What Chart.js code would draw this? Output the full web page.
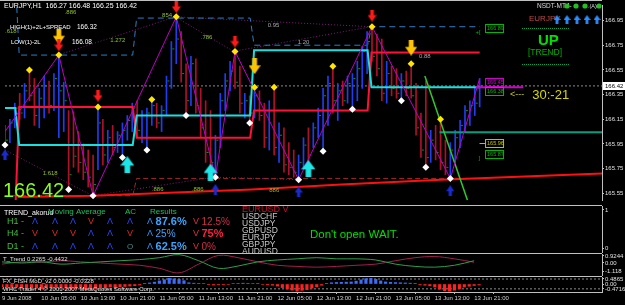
<!DOCTYPE html>
<html>
<head>
<meta charset="utf-8">
<title>EURJPY,H1</title>
<script src="https://cdn.jsdelivr.net/npm/chart.js@4.4.1/dist/chart.umd.min.js"></script>
<style>
  html, body { margin: 0; padding: 0; background: #000; }
  #wrap { position: relative; width: 625px; height: 305px; background: #000; overflow: hidden; }
  .pane { position: absolute; left: 0; width: 625px; }
</style>
</head>
<body>
<div id="wrap">
  <div class="pane" style="top:0;height:205px"><canvas id="mainChart"></canvas></div>
  <div class="pane" style="top:205px;height:48px"><canvas id="trendChart"></canvas></div>
  <div class="pane" style="top:253px;height:23px"><canvas id="ttChart"></canvas></div>
  <div class="pane" style="top:276px;height:29px"><canvas id="fishChart"></canvas></div>
</div>
<script>
// EURJPY H1 bars, index = hours since 9 Jun 21:00
const opens  = [166.02,165.98,166.12,166.24,166.20,166.38,166.34,166.18,166.32,166.42,166.26,166.12,166.10,166.20,166.10,165.85,165.80,165.72,165.68,165.78,
                166.12,165.86,166.00,165.92,166.02,166.06,166.14,166.24,166.06,166.18,166.20,166.26,166.12,166.22,166.46,166.72,166.80,166.52,166.30,166.60,
                166.26,166.08,165.88,165.80,165.98,166.30,166.46,166.54,166.45,166.28,166.30,166.20,166.34,166.18,166.00,166.22,165.92,166.02,165.78,165.76,
                165.72,165.80,165.94,165.86,166.08,166.18,166.34,166.44,166.30,166.38,166.30,166.44,166.48,166.56,166.70,166.78,166.66,166.56,166.36,166.52,
                166.40,166.36,166.46,166.40,166.34,166.08,165.90,165.84,165.98,165.88,165.80,165.76,165.90,166.00,166.10,166.22,166.26,166.27];
const highs  = [166.10,166.15,166.28,166.36,166.44,166.55,166.48,166.40,166.50,166.46,166.52,166.67,166.45,166.22,166.21,166.05,165.95,165.90,165.86,166.25,
                166.15,166.06,166.10,166.05,166.12,166.18,166.28,166.30,166.22,166.24,166.31,166.28,166.26,166.50,166.78,166.98,166.86,166.60,166.66,166.64,
                166.40,166.30,166.22,166.02,166.36,166.52,166.62,166.70,166.58,166.36,166.34,166.41,166.38,166.28,166.30,166.41,166.12,166.08,165.96,165.90,
                165.86,166.00,166.08,166.12,166.24,166.40,166.50,166.58,166.44,166.46,166.50,166.52,166.62,166.74,166.86,166.90,166.84,166.80,166.62,166.58,
                166.56,166.52,166.54,166.60,166.44,166.20,166.46,166.06,166.10,166.15,165.98,165.96,166.06,166.14,166.26,166.30,166.40,166.48];
const lows   = [165.94,165.96,166.08,166.15,166.16,166.30,166.10,166.08,166.16,166.20,166.22,166.00,166.05,165.58,165.76,165.72,165.66,165.60,165.53,165.74,
                165.78,165.80,165.86,165.88,165.84,165.98,166.05,166.00,165.96,165.90,166.10,166.08,166.05,166.18,166.40,166.60,166.45,166.18,166.26,166.20,
                166.00,165.80,165.72,165.68,165.92,166.22,166.38,166.40,166.20,166.16,166.12,166.16,166.14,165.92,165.90,165.86,165.80,165.72,165.70,165.68,
                165.66,165.74,165.80,165.92,166.00,165.89,166.10,166.20,166.14,166.26,166.28,166.23,166.30,166.40,166.52,166.62,166.50,166.30,166.28,166.34,
                166.32,166.30,166.34,166.32,166.02,165.84,165.76,165.80,165.82,165.74,165.70,165.67,165.80,165.92,166.04,166.10,166.18,166.25];
const closes = [165.98,166.12,166.24,166.20,166.38,166.34,166.18,166.32,166.42,166.26,166.48,166.38,166.30,165.70,165.85,165.80,165.72,165.68,165.62,166.12,
                165.86,166.00,165.92,166.02,166.06,166.14,166.24,166.06,166.18,166.20,166.26,166.12,166.22,166.46,166.72,166.80,166.52,166.30,166.60,166.26,
                166.08,165.88,165.80,165.98,166.30,166.46,166.54,166.45,166.28,166.30,166.20,166.34,166.18,166.00,166.22,165.92,166.02,165.78,165.76,165.72,
                165.80,165.94,165.86,166.08,166.18,166.34,166.44,166.30,166.38,166.30,166.44,166.48,166.56,166.70,166.78,166.66,166.56,166.36,166.52,166.40,
                166.36,166.46,166.40,166.34,166.08,165.90,165.84,165.98,165.88,165.80,165.76,165.90,166.00,166.10,166.22,166.26,166.28,166.42];

const priceTicks = [166.95, 166.75, 166.55, 166.35, 166.15, 165.95, 165.75, 165.55];
const timeHours  = [0, 8, 16, 24, 32, 40, 48, 56, 64, 72, 80, 88, 96];
const timeLabels = ['9 Jun 2008', '10 Jun 05:00', '10 Jun 13:00', '10 Jun 21:00', '11 Jun 05:00', '11 Jun 13:00',
                    '11 Jun 21:00', '12 Jun 05:00', '12 Jun 13:00', '12 Jun 21:00', '13 Jun 05:00', '13 Jun 13:00', '13 Jun 21:00'];

// zigzag turning points
const zigHours  = [0, 11, 18, 35, 43, 47, 60, 75, 91, 97];
const zigPrices = [166.05, 166.67, 165.53, 166.98, 165.68, 166.70, 165.66, 166.90, 165.67, 166.48];

// fractals (diamonds sit on the bar high / low)
const upFractals   = [5, 11, 19, 30, 35, 47, 51, 55, 67, 75, 83, 89];
const downFractals = [0, 13, 18, 24, 29, 37, 43, 50, 60, 65, 71, 81, 86, 91];

// signal arrows
const redDownHours   = [11, 19, 35, 47, 75];
const redDownPrices  = [166.75, 166.34, 167.06, 166.78, 166.99];
const goldDownHours  = [11, 51, 83];
const goldDownPrices = [166.82, 166.58, 166.73];
const cyanUpHours    = [25, 42, 62];
const cyanUpPrices   = [165.78, 165.72, 165.75];
const navyUpHours    = [0, 43, 60, 91];
const navyUpPrices   = [165.86, 165.58, 165.56, 165.57];

// daily channel levels
const dayStarts   = [0, 2.5, 26.5, 50.5, 74.5];
const lastHour    = 97;
const cyanLevels  = [166.24, 165.94, 166.18, 166.71, 166.41];
const redLevels   = [165.40, 166.25, 166.00, 166.22, 166.69];
const boxHiLevels = [167.30, 166.67, 166.97, 166.75, 166.90];
const boxLoLevels = [165.53, 165.53, 165.67, 165.67, 165.67];

// other lines
const trendHours  = [2.6, 18, 50.4, 68.7, 89, 122];
const trendPrices = [165.52, 165.53, 165.58, 165.62, 165.66, 165.71];
const greenHours  = [85.8, 96];
const greenPrices = [166.50, 165.32];
const tealHours   = [88.8, 122];
const tealPrice   = 166.045;
const pinkHours   = [96.2, 105.9];
const pinkPrice   = 166.41;
const fibSegments = [
  [10.8, 166.67, 34.8, 166.98],
  [34.8, 166.98, 74.8, 166.90],
  [34.8, 166.98, 46.7, 166.70],
  [46.7, 166.70, 74.8, 166.90],
  [0, 165.90, 17.9, 165.53],
  [17.9, 165.53, 42.7, 165.68],
  [42.7, 165.68, 59.8, 165.66]
];
const fibTexts  = ['.886', '.618', '1.272', '854', '.786', '0.95', '1.20', '0.88', '1.618', '.886', '.886', '886'];
const fibHours  = [12.2, 0, 21.5, 32.1, 40, 53.7, 59.8, 84.6, 7.7, 30, 38.2, 54];
const fibPrices = [167.02, 166.86, 166.79, 166.99, 166.81, 166.91, 166.77, 166.66, 165.71, 165.58, 165.58, 165.57];

// price tags at the right end
const tagPrices = [166.89, 166.45, 166.38, 165.96, 165.87];
const hudHigh = 166.32, hudLow = 166.08;

// TREND_akorud panel
const tfRows     = ['H1', 'H4', 'D1'];
const tfSignals  = [['up','up','up','down','up','up'], ['down','down','down','up','up','down'], ['up','up','up','up','up','flat']];
const upResults  = ['87.6%', '25%', '62.5%'];
const dnResults  = ['12.5%', '75%', '0%'];
const upWins     = [true, false, true];
const pairList   = ['USDCHF', 'USDJPY', 'GBPUSD', 'EURJPY', 'GBPJPY', 'AUDUSD'];

// T_Trend oscillator
const ttHours = [0,4,8,12,16,20,24,28,32,36,40,44,48,52,56,60,64,68,72,76,80,84,88,92,96];
const ttGreen = [0.15,0,0.15,-0.15,0,0.15,0.3,0.45,0.7,1.1,0.3,-0.7,-0.4,0.15,0.4,0.55,0.7,0.55,0.55,0.4,-0.15,-0.45,-0.55,-0.3,0.3];
const ttRed   = [-0.15,0.15,0.1,0.3,0.15,0,-0.15,-0.3,-0.7,-1.3,-0.15,1.0,0.7,0.15,-0.3,-0.45,-0.55,-0.45,-0.3,-0.15,0.3,0.7,0.85,0.55,0.1];
const ttTicks  = [0.9244, 0, -1.118];
const ttHeader = ['0.2265', '-0.4432'];

// FX_FISH histogram, one value per bar
const fish = [-0.28,-0.32,-0.35,-0.30,-0.38,-0.42,-0.36,-0.40,-0.45,-0.38,-0.33,-0.30,-0.36,-0.42,-0.48,-0.44,-0.40,-0.46,-0.50,-0.42,
              -0.38,-0.35,-0.30,-0.34,-0.28,-0.24,-0.20,-0.16,-0.10,0.06,0.10,0.18,0.30,0.42,0.55,0.50,0.45,0.32,0.12,0.08,
              0.06,0.05,-0.06,-0.10,-0.08,-0.06,-0.05,0.05,0.06,0.08,0.06,0.05,0.04,-0.05,-0.08,-0.12,-0.20,-0.35,-0.48,-0.60,
              -0.70,-0.62,-0.55,-0.40,-0.28,-0.12,0.06,0.12,0.15,0.16,0.18,0.20,0.28,0.40,0.52,0.55,0.45,0.30,0.20,0.16,
              0.14,0.12,0.10,0.08,0.06,-0.08,-0.12,-0.18,-0.30,-0.50,-0.65,-0.70,-0.60,-0.45,-0.30,-0.22,-0.15,-0.10];
const fishLevels = [0.4865, -0.4716];
const fishTicks  = [0.4865, 0, -0.4716];

const FONT = '"Liberation Sans", Arial, sans-serif';
const AXIS = '#c0c0c0';
Chart.defaults.font.family = FONT;

function txt(ctx, s, x, y, color, size, bold) {
  ctx.font = (bold ? 'bold ' : '') + size + 'px ' + FONT;
  ctx.fillStyle = color;
  ctx.textAlign = 'left';
  ctx.textBaseline = 'middle';
  ctx.fillText(s, x, y);
  return ctx.measureText(s).width;
}

function hline(ctx, x1, x2, y, color, dash) {
  ctx.save();
  ctx.strokeStyle = color;
  ctx.lineWidth = 1;
  ctx.setLineDash(dash || []);
  ctx.beginPath();
  ctx.moveTo(x1, y);
  ctx.lineTo(x2, y);
  ctx.stroke();
  ctx.restore();
}

function makeArrow(color, w, h, up) {
  const c = document.createElement('canvas');
  c.width = w; c.height = h;
  const g = c.getContext('2d');
  const fy = v => up ? h - v : v;
  const s1 = w * 0.3, s2 = w * 0.7, hy = h * 0.45;
  g.fillStyle = color;
  g.beginPath();
  g.moveTo(s1, fy(0)); g.lineTo(s2, fy(0)); g.lineTo(s2, fy(hy)); g.lineTo(w, fy(hy));
  g.lineTo(w / 2, fy(h)); g.lineTo(0, fy(hy)); g.lineTo(s1, fy(hy));
  g.closePath();
  g.fill();
  return c;
}

const redArrow  = makeArrow('#ff1a1a', 9, 12, false);
const goldArrow = makeArrow('#ffc400', 12, 16, false);
const cyanArrow = makeArrow('#1ee6e6', 14, 17, true);
const navyArrow = makeArrow('#1a2cd0', 8, 11, true);
const tinyArrow = makeArrow('#2a8cff', 7, 9, true);

function pts(hs, ps) { return hs.map((h, i) => ({ x: h, y: Array.isArray(ps) ? ps[i] : ps })); }

function daySteps(levels) {
  const out = [];
  levels.forEach((v, i) => {
    const last = i === levels.length - 1;
    out.push({ x: dayStarts[i] + (i ? 0.4 : 0), y: v });
    out.push({ x: last ? lastHour : dayStarts[i + 1] - 0.4, y: v });
  });
  return out;
}

function lineSet(data, color, width, order, extra) {
  return Object.assign({ type: 'line', data, borderColor: color, borderWidth: width, pointRadius: 0, order, tension: 0 }, extra || {});
}

function markSet(data, style, order, extra) {
  return Object.assign({ type: 'line', data, showLine: false, pointStyle: style, pointRadius: 4, order, clip: false }, extra || {});
}

const xHidden = { type: 'linear', min: 0, max: 122, offset: false, display: false };

function rightAxis(min, max, ticks, fmt) {
  return {
    type: 'linear', position: 'right', min, max,
    afterBuildTicks: a => { a.ticks = ticks.map(v => ({ value: v })); },
    afterFit: a => { a.width = 23; a.paddingTop = 0; a.paddingBottom = 0; },
    ticks: { color: '#e0e0e0', font: { size: 6 }, padding: 1, autoSkip: false, callback: fmt },
    grid: { drawOnChartArea: false, color: AXIS, tickLength: 2 },
    border: { color: AXIS }
  };
}

const baseOpts = {
  responsive: true, maintainAspectRatio: false, animation: false, events: [],
  plugins: { legend: { display: false }, tooltip: { enabled: false } }
};

// ---------- main price pane ----------
const last = closes.length - 1;
const mainOverlay = {
  id: 'mainOverlay',
  afterDraw(chart) {
    const { ctx, chartArea: a, scales: { x, y } } = chart;
    ctx.save();
    hline(ctx, 0, a.right, 0.5, AXIS);

    fibTexts.forEach((s, i) => {
      const grey = s === '0.95' || s === '1.20' || s === '0.88';
      txt(ctx, s, x.getPixelForValue(fibHours[i]), y.getPixelForValue(fibPrices[i]), grey ? '#a8a8a8' : '#8fc030', 6);
    });

    txt(ctx, 'EURJPY,H1  ' + [opens[last], highs[last], lows[last], closes[last]].map(v => v.toFixed(2)).join(' '), 4, 6, '#ffffff', 7);
    txt(ctx, 'HIGH(1)+2L+SPREAD', 10, 27, '#ffffff', 6);
    txt(ctx, hudHigh.toFixed(2), 77, 27, '#ffffff', 6.5);
    txt(ctx, 'LOW(1)-2L', 11, 42, '#ffffff', 6);
    txt(ctx, hudLow.toFixed(2), 72, 42, '#ffffff', 6.5);
    txt(ctx, closes[last].toFixed(2), 3, 191, '#84ff1c', 20);

    // price tags
    const tagColors = ['#00b800', '#d000d0', '#00b800', '#c0c000', '#00b800'];
    const tx = x.getPixelForValue(98.2);
    tagPrices.forEach((p, i) => {
      const py = Math.round(y.getPixelForValue(p)) + 0.5;
      ctx.strokeStyle = tagColors[i];
      ctx.lineWidth = 1;
      ctx.strokeRect(tx, py - 4, 18, 8);
      txt(ctx, p.toFixed(2), tx + 1.5, py, tagColors[i], 5.5);
    });
    hline(ctx, tx - 6, tx, Math.round(y.getPixelForValue(tagPrices[3])) + 0.5, '#c0c000');
    txt(ctx, '+[', tx - 10, y.getPixelForValue(tagPrices[0]) + 4, '#00b800', 6);
    txt(ctx, ']', tx - 7, y.getPixelForValue(tagPrices[4]) + 5, '#00b800', 6);

    // top-right HUD
    txt(ctx, 'NSDT-MT4-', 537, 6, '#d8d8d8', 6.5);
    ctx.fillStyle = '#1fc01f';
    [567, 576, 585, 599].forEach(cx => { ctx.beginPath(); ctx.arc(cx, 6, 2.6, 0, Math.PI * 2); ctx.fill(); });
    txt(ctx, '.(A)', 588, 6, '#d8d8d8', 5.5);
    txt(ctx, 'EURJPY', 529, 19, '#c04848', 8);
    [557, 567, 577, 587, 597].forEach(cx => ctx.drawImage(tinyArrow, cx - 3.5, 15));
    hline(ctx, 522, 570, 28.5, '#00a060', [1, 1]);
    hline(ctx, 522, 570, 64.5, '#00a060', [1, 1]);
    txt(ctx, 'UP', 538, 41, '#00e000', 15, true);
    txt(ctx, '[TREND]', 528, 53, '#00b000', 8.5);
    const w = txt(ctx, '<---', 510, 95, '#c8c810', 9);
    txt(ctx, '30:-21', 512 + w + 6, 95, '#d8d800', 13);

    // current price marker on the axis
    const cy = Math.round(y.getPixelForValue(closes[last]));
    ctx.fillStyle = '#ffffff';
    ctx.fillRect(a.right + 1, cy - 4, 22, 8);
    txt(ctx, closes[last].toFixed(2), a.right + 3, cy, '#000000', 6);
    ctx.restore();
  }
};

const BLUE = '#1f3ef0', RED = '#b0102a';
new Chart(document.getElementById('mainChart'), {
  type: 'bar',
  data: {
    datasets: [
      markSet(pts(redDownHours, redDownPrices), redArrow, 1),
      markSet(pts(goldDownHours, goldDownPrices), goldArrow, 2),
      markSet(pts(cyanUpHours, cyanUpPrices), cyanArrow, 1),
      markSet(pts(navyUpHours, navyUpPrices), navyArrow, 1),
      markSet(upFractals.map(h => ({ x: h, y: highs[h] })), 'rectRot', 3, { pointRadius: 3.5, backgroundColor: '#ffe600', borderWidth: 0 }),
      markSet(downFractals.map(h => ({ x: h, y: lows[h] })), 'rectRot', 3, { pointRadius: 3.5, backgroundColor: '#ffffff', borderWidth: 0 }),
      lineSet(pts(zigHours, zigPrices), '#c000c8', 1, 4),
      lineSet(pts(pinkHours, pinkPrice), '#d000d0', 2, 4),
      lineSet(pts(greenHours, greenPrices), '#30c830', 1.5, 5),
      lineSet(pts(tealHours, tealPrice), '#00a080', 2, 5),
      lineSet(pts(trendHours, trendPrices), '#ff1010', 2, 5),
      lineSet(daySteps(cyanLevels), '#18e0e0', 2, 6),
      lineSet(daySteps(redLevels), '#ff1038', 2, 6),
      markSet(closes.map((c, i) => ({ x: i + 0.4, y: c })), 'line', 7, { pointRadius: 1, borderColor: '#168a26', borderWidth: 1 }),
      { type: 'bar', data: highs.map((h, i) => ({ x: i, y: [lows[i], h] })), barThickness: 1, grouped: false, order: 8,
        backgroundColor: closes.map((c, i) => c >= opens[i] ? BLUE : RED) },
      lineSet(daySteps(boxHiLevels), '#2f7cc4', 1, 9, { borderDash: [6, 4] }),
      lineSet(daySteps(boxLoLevels), '#a02828', 1, 9, { borderDash: [5, 3] }),
      ...fibSegments.map(s => lineSet([{ x: s[0], y: s[1] }, { x: s[2], y: s[3] }], '#7a1f7a', 1, 10, { borderDash: [1, 2] })),
      lineSet(pts([0, 122], closes[last]), '#8a8a8a', 1, 11, { borderDash: [2, 2] })
    ]
  },
  options: Object.assign({}, baseOpts, {
    layout: { padding: { top: 3, bottom: 1, left: 2, right: 0 } },
    scales: {
      x: xHidden,
      y: rightAxis(165.495, 167.076, priceTicks, v => v.toFixed(2))
    }
  }),
  plugins: [mainOverlay]
});

// ---------- TREND_akorud pane ----------
const trendOverlay = {
  id: 'trendOverlay',
  afterDraw(chart) {
    const { ctx, chartArea: a } = chart;
    ctx.save();
    hline(ctx, 0, a.right, 0.5, AXIS);
    txt(ctx, 'TREND_akorud', 4, 8, '#ffffff', 7);
    txt(ctx, 'Moving Average', 48, 7, '#1fbf63', 8);
    txt(ctx, 'AC', 125, 7, '#1fbf63', 8);
    txt(ctx, 'Results', 150, 7, '#1fbf63', 8);
    const cols = [32, 52, 70, 88, 107, 127];
    const rowY = [17, 29, 42];
    tfRows.forEach((r, i) => {
      txt(ctx, r + ' -', 7, rowY[i], '#3cbc3c', 9);
      tfSignals[i].forEach((s, j) => {
        if (s === 'up') txt(ctx, '\u039B', cols[j], rowY[i], '#2848ff', 9);
        else if (s === 'down') txt(ctx, 'V', cols[j], rowY[i], '#e02828', 9);
        else txt(ctx, 'O', cols[j], rowY[i], '#4a8a8a', 8);
      });
      let w = txt(ctx, '\u039B ', 147, rowY[i], '#3399ff', 9);
      txt(ctx, upResults[i], 147 + w, rowY[i], '#3da5ff', upWins[i] ? 11 : 10, upWins[i]);
      w = txt(ctx, 'V ', 193, rowY[i], '#e03040', 9);
      txt(ctx, dnResults[i], 193 + w, rowY[i], upWins[i] ? '#d03048' : '#ff2040', upWins[i] ? 10 : 11, !upWins[i]);
    });
    txt(ctx, 'EURUSD V', 242, 5, '#c8102e', 9);
    pairList.forEach((p, i) => txt(ctx, p, 242, 12 + i * 7, '#c8c8c8', 8.5));
    txt(ctx, "Don't open WAIT.", 310, 30, '#00e000', 11.5);
    ctx.restore();
  }
};

new Chart(document.getElementById('trendChart'), {
  type: 'line',
  data: { datasets: [] },
  options: Object.assign({}, baseOpts, {
    layout: { padding: { top: 1, bottom: 1, left: 2, right: 0 } },
    scales: { x: xHidden, y: rightAxis(-0.105, 1.105, [1, 0], v => String(v)) }
  }),
  plugins: [trendOverlay]
});

// ---------- T_Trend pane ----------
new Chart(document.getElementById('ttChart'), {
  type: 'line',
  data: {
    datasets: [
      lineSet(pts(ttHours, ttGreen), '#2e9e4e', 1, 1, { tension: 0.35 }),
      lineSet(pts(ttHours, ttRed), '#a0204c', 1, 2, { tension: 0.35 })
    ]
  },
  options: Object.assign({}, baseOpts, {
    layout: { padding: { top: 1, bottom: 1, left: 2, right: 0 } },
    scales: { x: xHidden, y: rightAxis(-1.585, 1.188, ttTicks, v => v === 0 ? '0.00' : String(v)) }
  }),
  plugins: [{
    id: 'ttOverlay',
    afterDraw(chart) {
      const { ctx, chartArea: a } = chart;
      hline(ctx, 0, a.right, 0.5, AXIS);
      txt(ctx, 'T_Trend ' + ttHeader.join(' '), 3, 6, '#e0e0e0', 6);
    }
  }]
});

// ---------- FX_FISH pane + time axis ----------
new Chart(document.getElementById('fishChart'), {
  type: 'bar',
  data: {
    datasets: [
      { type: 'bar', data: fish.map((v, i) => ({ x: i, y: v })), barThickness: 2.5, order: 2,
        backgroundColor: fish.map(v => v >= 0 ? '#3c6cff' : '#ff2020') },
      ...fishLevels.map(l => lineSet(pts([0, 122], l), '#8a8a8a', 1, 3, { borderDash: [2, 2] }))
    ]
  },
  options: Object.assign({}, baseOpts, {
    layout: { padding: { top: 1, bottom: 0, left: 2, right: 0 } },
    scales: {
      x: {
        type: 'linear', min: 0, max: 122, offset: false, position: 'bottom',
        afterBuildTicks: a => { a.ticks = timeHours.map(v => ({ value: v })); },
        afterFit: a => { a.height = 13; a.paddingLeft = 0; a.paddingRight = 0; },
        ticks: { color: '#d0d0d0', font: { size: 6 }, padding: 1, autoSkip: false, maxRotation: 0, align: 'start',
                 callback: v => timeLabels[timeHours.indexOf(v)] },
        grid: { drawOnChartArea: false, color: AXIS, tickLength: 2 },
        border: { color: AXIS }
      },
      y: rightAxis(-0.778, 0.681, fishTicks, v => v === 0 ? '0.00' : String(v))
    }
  }),
  plugins: [{
    id: 'fishOverlay',
    afterDraw(chart) {
      const { ctx, chartArea: a } = chart;
      hline(ctx, 0, a.right, 0.5, AXIS);
      txt(ctx, 'FX_FISH MoD_v2 0.0000 -0.0328', 3, 5, '#e0e0e0', 6);
      txt(ctx, 'WHC Trader 4 \u00A9 2001-2007 MetaQuotes Software Corp.', 3, 13, '#e0e0e0', 6);
    }
  }]
});
</script>
</body>
</html>
